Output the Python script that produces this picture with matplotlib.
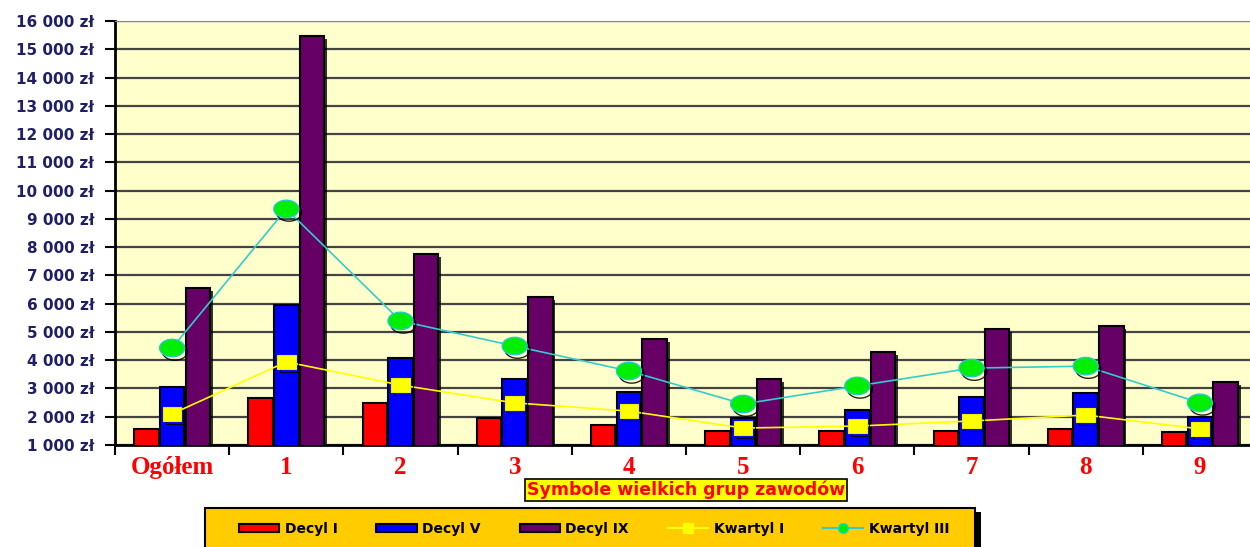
import matplotlib.pyplot as plt
import matplotlib.patheffects as pe
from matplotlib.patches import Rectangle, Patch
from matplotlib.lines import Line2D
import numpy as np

categories = ["Ogółem", "1", "2", "3", "4", "5", "6", "7", "8", "9"]
decyl_1 = [1570, 2660, 2490, 1960, 1710, 1500, 1500, 1480, 1570, 1470]
decyl_5 = [3050, 5950, 4080, 3330, 2870, 1960, 2240, 2700, 2840, 1990]
decyl_9 = [6550, 15470, 7760, 6240, 4750, 3330, 4290, 5100, 5210, 3230]
kwartyl_1 = [2100, 3940, 3120, 2490, 2200, 1600, 1670, 1850, 2060, 1570]
kwartyl_3 = [4430, 9350, 5390, 4500, 3620, 2450, 3090, 3720, 3790, 2490]
yticks = list(range(1000, 16001, 1000))

W, H = 1250, 547
fig = plt.figure(figsize=(W / 100, H / 100), dpi=100)
ax = fig.add_axes([115 / W, 1 - 445 / H, 1142 / W, 424 / H])
ax.set_facecolor("#FFFFCC")

x = np.arange(len(categories))
bw = 0.215
shadow = [pe.SimplePatchShadow(offset=(2, -2), shadow_rgbFace="black", alpha=0.8), pe.Normal()]
for off, vals, col in [(-0.225, decyl_1, "#FF0000"), (0, decyl_5, "#0000FF"), (0.225, decyl_9, "#660066")]:
    bars = ax.bar(x + off, vals, bw, color=col, edgecolor="black", linewidth=1.5, zorder=3)
    for b in bars:
        b.set_path_effects(shadow)

# wide markers (ellipse / flat rectangle)
t = np.linspace(0, 2 * np.pi, 40)
ellipse = np.column_stack([np.cos(t), 0.7 * np.sin(t)])
rect = [(-1, -0.72), (1, -0.72), (1, 0.72), (-1, 0.72), (-1, -0.72)]

mshadow = [pe.SimpleLineShadow(offset=(2, -2.5), shadow_color="black", alpha=0.85), pe.Normal()]
ax.plot(x, kwartyl_1, color="#FFFF00", lw=1.2, zorder=4)
m1, = ax.plot(x, kwartyl_1, ls="none", marker=rect, ms=13.5, mfc="#FFFF00", mec="#EEEE00", mew=0.8, zorder=4)
m1.set_path_effects(mshadow)
ax.plot(x, kwartyl_3, color="#33CCCC", lw=1.2, zorder=5)
m3, = ax.plot(x, kwartyl_3, ls="none", marker=ellipse, ms=18, mfc="#00EE00", mec="#22CCCC", mew=1, zorder=5)
m3.set_path_effects(mshadow)

ax.set_xlim(-0.5, len(categories) - 0.5)
ax.set_ylim(1000, 16000)
ax.set_yticks(yticks)
ax.set_yticklabels([f"{v // 1000} 000 zł" for v in yticks], fontweight="bold", fontsize=11,
                   color="#1F1F66", family="DejaVu Sans")
ax.yaxis.grid(True, color="#444444", lw=1.6, zorder=1)
ax.set_axisbelow(True)

ax.set_xticks(x)
ax.set_xticklabels(categories, color="#FF0000", fontweight="bold", fontsize=18, family="Liberation Serif")
ax.set_xticks(np.arange(-0.5, len(categories), 1), minor=True)
ax.tick_params(axis="x", which="major", length=0, pad=8)
ax.tick_params(axis="x", which="minor", length=7, width=1.5, direction="out")
ax.tick_params(axis="y", length=7, width=1.5, pad=8)
for s in ["left", "bottom"]:
    ax.spines[s].set_linewidth(2)
ax.spines["top"].set_color("#888888")
ax.spines["right"].set_visible(False)

# axis title box
fig.text(686 / W, 1 - 490 / H, "Symbole wielkich grup zawodów", ha="center", va="center",
         color="#FF0000", fontweight="bold", fontsize=12.5, family="DejaVu Sans",
         bbox=dict(boxstyle="square,pad=0.1", fc="#FFFF00", ec="black", lw=1.2))

# legend box
box = Rectangle((205 / W, -0.05), 770 / W, (0.05 + 1 - 508 / H), transform=fig.transFigure,
                fc="#FFCC00", ec="black", lw=1.5, zorder=0)
box.set_path_effects([pe.SimplePatchShadow(offset=(4, -3), shadow_rgbFace="black", alpha=1), pe.Normal()])
fig.patches.append(box)
handles = [Patch(fc="#FF0000", ec="black", lw=1.5), Patch(fc="#0000FF", ec="black", lw=1.5),
           Patch(fc="#660066", ec="black", lw=1.5),
           Line2D([], [], color="#FFFF00", marker="s", ms=7, mfc="#FFFF00", mec="#FFFF00"),
           Line2D([], [], color="#33CCCC", marker="o", ms=7, mfc="#00EE00", mec="#00DDDD")]
labels = ["Decyl I", "Decyl V", "Decyl IX", "Kwartyl I", "Kwartyl III"]
fig.legend(handles, labels, ncol=5, loc="center", bbox_to_anchor=(594 / W, 1 - 529 / H),
           frameon=False, prop=dict(weight="bold", size=10, family="DejaVu Sans"),
           handlelength=2.9, handleheight=0.55, columnspacing=2.8, handletextpad=0.4)

fig.savefig("out.png", dpi=100)
